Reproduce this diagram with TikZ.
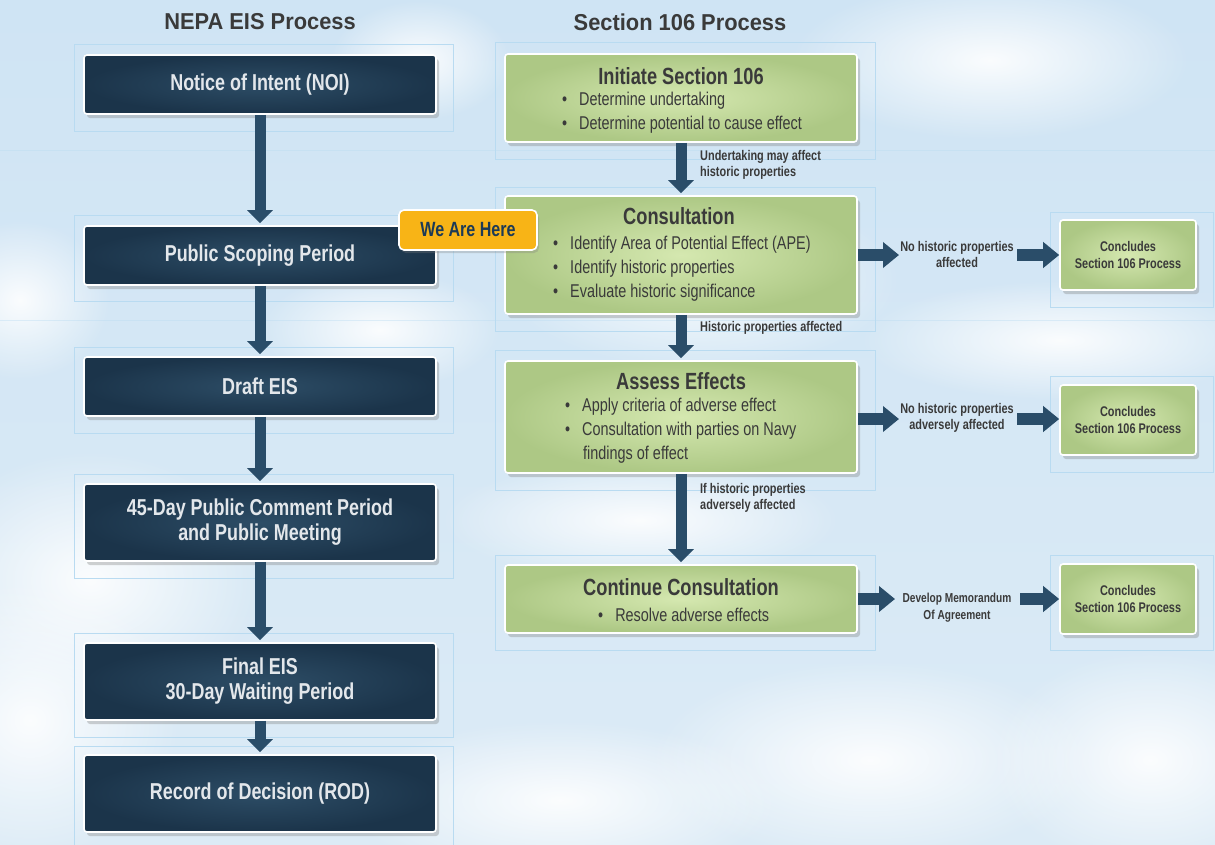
\documentclass[tikz,border=0pt]{standalone}
\usepackage{fontspec}
\setmainfont{Liberation Sans}[FakeStretch=0.78]
\newfontfamily\headfont{Liberation Sans}[FakeStretch=0.95]
\usetikzlibrary{arrows.meta,shadows,fadings}
\definecolor{navyD}{HTML}{1B344A}
\definecolor{navyL}{HTML}{2D4D66}
\definecolor{arrowc}{HTML}{2A4D69}
\definecolor{greenC}{HTML}{D5E8B0}
\definecolor{greenE}{HTML}{ADC885}
\definecolor{txtdark}{HTML}{3A3A3A}
\definecolor{skyT}{HTML}{CFE4F4}
\definecolor{skyB}{HTML}{DCEBF6}
\definecolor{gridc}{HTML}{B9DBF1}
\definecolor{orangeC}{HTML}{F8B416}
\definecolor{navytxt}{HTML}{E3E7EB}
\definecolor{badgetxt}{HTML}{1C3A56}
\tikzfading[name=fuzzy, inner color=transparent!0, outer color=transparent!100]
\newcommand{\fBox}{\fontsize{23}{25}\selectfont\bfseries}
\newcommand{\fGT}{\fontsize{23.4}{25}\selectfont\bfseries}
\newcommand{\fBul}{\fontsize{18.5}{24}\selectfont}
\newcommand{\fSm}{\fontsize{14}{16}\selectfont\bfseries}
\newcommand{\fCon}{\fontsize{14}{17}\selectfont\bfseries}
\newcommand{\bul}{\textbullet\hspace{12pt}}
\tikzset{
  navybox/.style={draw=white, line width=1.6pt, rounded corners=3pt,
    inner color=navyL, outer color=navyD, minimum width=352pt,
    text=navytxt, align=center, font=\fBox,
    drop shadow={opacity=0.35, shadow xshift=3pt, shadow yshift=-4pt}},
  greenbox/.style={draw=white, line width=1.6pt, rounded corners=3pt,
    inner color=greenC, outer color=greenE, minimum width=352pt,
    drop shadow={opacity=0.35, shadow xshift=3pt, shadow yshift=-4pt}},
  concbox/.style={draw=white, line width=1.6pt, rounded corners=3pt,
    inner color=greenC, outer color=greenE, minimum width=136pt, minimum height=70pt,
    text=txtdark, align=center, font=\fCon,
    drop shadow={opacity=0.35, shadow xshift=3pt, shadow yshift=-4pt}},
  gtitle/.style={text=txtdark, font=\fGT, inner sep=0pt},
  bullet/.style={text=txtdark, font=\fBul, inner sep=0pt, anchor=west, align=left},
  small/.style={text=txtdark, font=\fSm, inner sep=0pt, align=left},
  midlab/.style={text=txtdark, font=\fSm, inner sep=0pt, align=center, minimum width=118pt},
  varrow/.style={draw=arrowc, line width=11pt, -{Triangle[width=25pt,length=13pt]}, shorten >=2pt},
  harrow/.style={draw=arrowc, line width=12pt, -{Triangle[width=25pt,length=16pt]}},
  frame/.style={draw=gridc, line width=0.8pt},
  cloud/.style={fill=white, path fading=fuzzy, opacity=0.9}
}
\begin{document}
\begin{tikzpicture}[x=1pt,y=-1pt]
\useasboundingbox (0,0) rectangle (1215,844);
% background
\shade[top color=skyT, bottom color=skyB] (0,0) rectangle (1215,844);
\fill[cloud] (90,580) ellipse [x radius=170pt, y radius=130pt];
\fill[cloud] (30,720) ellipse [x radius=150pt, y radius=140pt];
\fill[cloud] (380,330) ellipse [x radius=120pt, y radius=60pt];
\fill[cloud] (990,60) ellipse [x radius=200pt, y radius=80pt];
\fill[cloud] (420,60) ellipse [x radius=90pt, y radius=60pt];
\fill[cloud] (1060,340) ellipse [x radius=200pt, y radius=60pt];
\fill[cloud] (870,760) ellipse [x radius=220pt, y radius=100pt];
\fill[cloud] (560,800) ellipse [x radius=220pt, y radius=80pt];
\fill[cloud] (1150,760) ellipse [x radius=160pt, y radius=110pt];
\fill[cloud] (640,520) ellipse [x radius=200pt, y radius=60pt];
\fill[cloud] (20,300) ellipse [x radius=90pt, y radius=80pt];
\fill[cloud] (700,280) ellipse [x radius=200pt, y radius=90pt];
% grid frames
\draw[frame] (74,44) rectangle (453,131);
\draw[frame] (74,215) rectangle (453,301);
\draw[frame] (74,347) rectangle (453,433);
\draw[frame] (74,474) rectangle (453,578);
\draw[frame] (74,633) rectangle (453,737);
\draw[frame] (74,746) rectangle (453,850);
\draw[frame] (495,42) rectangle (875,159);
\draw[frame] (495,187) rectangle (875,331);
\draw[frame] (495,350) rectangle (875,490);
\draw[frame] (495,555) rectangle (875,650);
\draw[frame] (1050,212) rectangle (1213,307);
\draw[frame] (1050,376) rectangle (1213,472);
\draw[frame] (1050,555) rectangle (1213,650);
\draw[gridc, opacity=0.4] (0,150) -- (1215,150);
\draw[gridc, opacity=0.4] (0,320) -- (1215,320);
% headings
\node[text=txtdark, font=\headfont\fontsize{23}{26}\selectfont\bfseries] (h1) at (260,22) {NEPA EIS Process};
\node[text=txtdark, font=\headfont\fontsize{23}{26}\selectfont\bfseries] (h2) at (680,22) {Section 106 Process};
% NEPA column
\node[navybox, minimum height=59pt] (noi) at (260,84.5) {Notice of Intent (NOI)};
\node[navybox, minimum height=59pt] (scop) at (260,255.5) {Public Scoping Period};
\node[navybox, minimum height=59pt] (draft) at (260,386.5) {Draft EIS};
\node[navybox, minimum height=77pt] (dcom) at (260,522.5) {45-Day Public Comment Period\\and Public Meeting};
\node[navybox, minimum height=77pt] (final) at (260,681.5) {Final EIS\\30-Day Waiting Period};
\node[navybox, minimum height=77pt] (rod) at (260,793.5) {Record of Decision (ROD)};
\draw[varrow] (noi.south) -- (scop.north);
\draw[varrow] (scop.south) -- (draft.north);
\draw[varrow] (draft.south) -- (dcom.north);
\draw[varrow] (dcom.south) -- (final.north);
\draw[varrow] (final.south) -- (rod.north);
% Section 106 column
\node[greenbox, minimum height=88pt] (init) at (681,98) {};
\node[gtitle] (initT) at (681,76) {Initiate Section 106};
\node[bullet] (initB1) at (562,101) {\bul Determine undertaking};
\node[bullet] (initB2) at (562,125) {\bul Determine potential to cause effect};

\node[greenbox, minimum height=118pt] (cons) at (681,255) {};
\node[gtitle] (consT) at (679,216) {Consultation};
\node[bullet] (consB1) at (553,245) {\bul Identify Area of Potential Effect (APE)};
\node[bullet] (consB2) at (553,269) {\bul Identify historic properties};
\node[bullet] (consB3) at (553,293) {\bul Evaluate historic significance};

\node[greenbox, minimum height=112pt] (asse) at (681,417) {};
\node[gtitle] (asseT) at (681,381) {Assess Effects};
\node[bullet] (asseB1) at (565,407) {\bul Apply criteria of adverse effect};
\node[bullet] (asseB2) at (565,431) {\bul Consultation with parties on Navy};
\node[bullet] (asseB3) at (583,455) {findings of effect};

\node[greenbox, minimum height=68pt] (cont) at (681,599) {};
\node[gtitle] (contT) at (681,587) {Continue Consultation};
\node[bullet] (contB1) at (598,615) {\bul Resolve adverse effects};

\draw[varrow] (init.south) -- (cons.north);
\draw[varrow] (cons.south) -- (asse.north);
\draw[varrow] (asse.south) -- (cont.north);
\node[small, anchor=west] (l1) at (700,165) {Undertaking may affect\\historic properties};
\node[small, anchor=west] (l2) at (700,328) {Historic properties affected};
\node[small, anchor=west] (l3) at (700,498) {If historic properties\\adversely affected};

% We Are Here badge
\node[draw=white, line width=1.6pt, rounded corners=5pt, fill=orangeC,
  minimum width=138pt, minimum height=40pt, text=badgetxt,
  font=\fontsize{20.6}{24}\selectfont\bfseries,
  drop shadow={opacity=0.3, shadow xshift=2pt, shadow yshift=-3pt}] (here) at (468,230) {We Are Here};

% right side
\node[midlab] (m1) at (957,254) {No historic properties\\affected};
\node[midlab] (m2) at (957,418) {No historic properties\\adversely affected};
\node[midlab, font=\fontsize{13}{17}\selectfont\bfseries] (m3) at (957,608) {Develop Memorandum\\Of Agreement};
\node[concbox] (c1) at (1128,255) {Concludes\\Section 106 Process};
\node[concbox] (c2) at (1128,420) {Concludes\\Section 106 Process};
\node[concbox] (c3) at (1128,599) {Concludes\\Section 106 Process};
\coordinate (m1w) at (899,255);
\coordinate (m1e) at (1017,255);
\coordinate (m2w) at (899,419);
\coordinate (m2e) at (1017,419);
\coordinate (m3w) at (895,599);
\coordinate (m3e) at (1020,599);
\draw[harrow] (cons.east |- m1w) -- (m1w);
\draw[harrow] (m1e) -- (c1.west |- m1e);
\draw[harrow] (asse.east |- m2w) -- (m2w);
\draw[harrow] (m2e) -- (c2.west |- m2e);
\draw[harrow] (cont.east |- m3w) -- (m3w);
\draw[harrow] (m3e) -- (c3.west |- m3e);
\end{tikzpicture}
\end{document}
